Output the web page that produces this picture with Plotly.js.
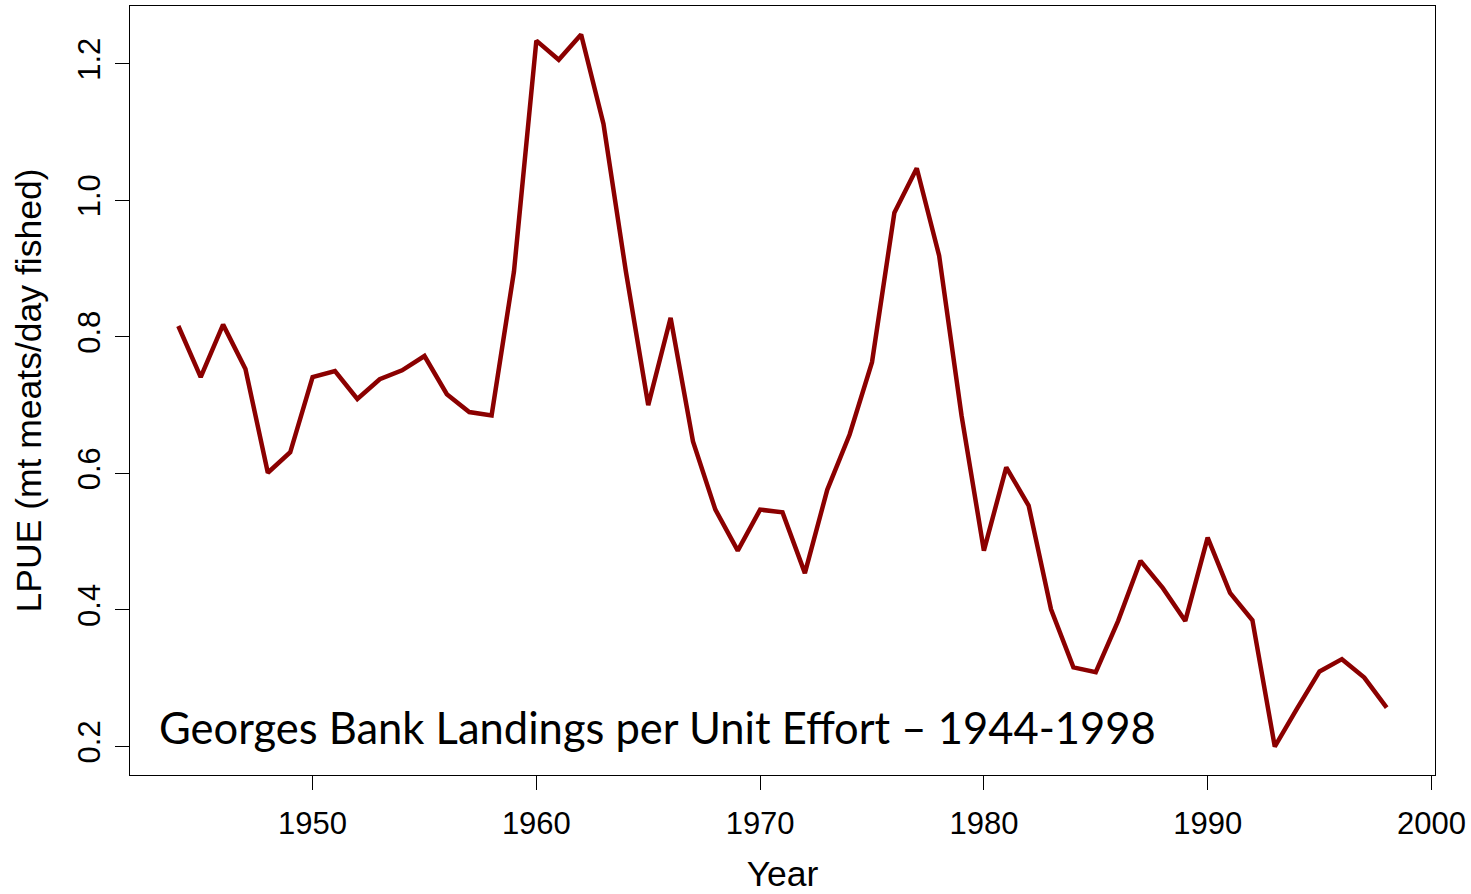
<!DOCTYPE html>
<html>
<head>
<meta charset="utf-8">
<script src="https://cdn.plot.ly/plotly-3.0.1.min.js"></script>
<style>
  html, body { margin: 0; padding: 0; background: #fff; }
  #chart { width: 1471px; height: 894px; }
</style>
</head>
<body>
<div id="chart"></div>
<script>
// Georges Bank sea scallop landings per unit effort, by year
const years = [
  1944, 1945, 1946, 1947, 1948, 1949, 1950, 1951, 1952, 1953,
  1954, 1955, 1956, 1957, 1958, 1959, 1960, 1961, 1962, 1963,
  1964, 1965, 1966, 1967, 1968, 1969, 1970, 1971, 1972, 1973,
  1974, 1975, 1976, 1977, 1978, 1979, 1980, 1981, 1982, 1983,
  1984, 1985, 1986, 1987, 1988, 1989, 1990, 1991, 1992, 1993,
  1994, 1995, 1996, 1997, 1998
];
const lpue = [
  0.816, 0.741, 0.818, 0.753, 0.601, 0.631, 0.741, 0.750, 0.709, 0.738,
  0.751, 0.772, 0.716, 0.690, 0.685, 0.896, 1.234, 1.206, 1.243, 1.112,
  0.896, 0.700, 0.828, 0.647, 0.547, 0.487, 0.547, 0.543, 0.454, 0.576,
  0.657, 0.763, 0.982, 1.047, 0.919, 0.685, 0.487, 0.609, 0.553, 0.401,
  0.316, 0.309, 0.384, 0.472, 0.432, 0.384, 0.506, 0.425, 0.385, 0.200,
  0.256, 0.310, 0.328, 0.301, 0.257
];
const xTicks = [1950, 1960, 1970, 1980, 1990, 2000];
const yTicks = [0.2, 0.4, 0.6, 0.8, 1.0, 1.2];
const yTickText = ['0.2', '0.4', '0.6', '0.8', '1.0', '1.2'];
const chartLabel = 'Georges Bank Landings per Unit Effort \u2013 1944-1998';

// 4% padding on each side of the data range
const pad = (lo, hi) => [lo - 0.04 * (hi - lo), hi + 0.04 * (hi - lo)];
const xr = pad(Math.min(...years), Math.max(...years));
const yr = pad(Math.min(...lpue), Math.max(...lpue));

const tickFont = { family: 'Liberation Sans, Arial, sans-serif', size: 31, color: '#000' };
const titleFont = { family: 'Liberation Sans, Arial, sans-serif', size: 35.5, color: '#000' };

const trace = {
  x: years,
  y: lpue,
  type: 'scatter',
  mode: 'lines',
  line: { color: '#8B0000', width: 4.5 },
  hoverinfo: 'x+y'
};

const layout = {
  width: 1471,
  height: 894,
  margin: { l: 130, r: 36, t: 6, b: 119 },
  paper_bgcolor: '#fff',
  plot_bgcolor: '#fff',
  showlegend: false,
  font: tickFont,
  xaxis: {
    range: xr,
    tickvals: xTicks,
    ticktext: xTicks.map(String),
    ticks: 'outside',
    ticklen: 14,
    tickwidth: 1.3,
    tickcolor: '#000',
    ticklabelstandoff: 7,
    showline: true,
    linecolor: '#000',
    linewidth: 1.3,
    mirror: true,
    showgrid: false,
    zeroline: false,
    tickfont: tickFont,
    title: { text: 'Year', font: titleFont, standoff: 28 },
    automargin: false
  },
  yaxis: {
    range: yr,
    tickvals: yTicks,
    ticktext: yTickText,
    tickangle: -90,
    ticks: 'outside',
    ticklen: 14,
    tickwidth: 1.3,
    tickcolor: '#000',
    ticklabelstandoff: 2,
    showline: true,
    linecolor: '#000',
    linewidth: 1.3,
    mirror: true,
    showgrid: false,
    zeroline: false,
    tickfont: tickFont,
    title: { text: 'LPUE (mt meats/day fished)', font: titleFont, standoff: 20 },
    automargin: false
  },
  annotations: [{
    text: chartLabel,
    xref: 'paper',
    yref: 'paper',
    x: 0.0205,
    y: 0.0625,
    xanchor: 'left',
    yanchor: 'middle',
    showarrow: false,
    font: { family: 'Lato, Open Sans, sans-serif', size: 43.5, color: '#000' }
  }]
};

Plotly.newPlot('chart', [trace], layout, { displayModeBar: false, responsive: false });
</script>
</body>
</html>
